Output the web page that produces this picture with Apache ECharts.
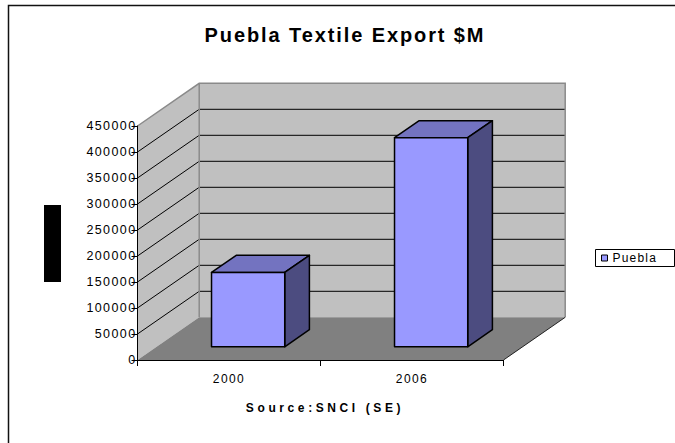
<!DOCTYPE html>
<html>
<head>
<meta charset="utf-8">
<title>Puebla Textile Export $M</title>
<script src="https://cdn.jsdelivr.net/npm/echarts@6/dist/echarts.min.js"></script>
<style>
  html, body { margin: 0; padding: 0; background: #fff; overflow: hidden; }
  #chart { width: 675px; height: 443px; }
</style>
</head>
<body>
<div id="chart"></div>
<script>
// Export values by year
const categories = ['2000', '2006'];
const puebla = [143000, 402000];

// Value axis range
const yMin = 0;
const yMax = 450000;
const yStep = 50000;

const FONT = '"Liberation Sans", Arial, Helvetica, sans-serif';
const DEPTH = [61.7, -42.7];          // offset from the front plane to the back wall (px)
const BAR_FRONT = 0.31, BAR_BACK = 0.71; // bar extent along the depth
const BAR_WIDTH = 0.4;                // share of a category band

function shift(p, f) {
  return [p[0] + DEPTH[0] * f, p[1] + DEPTH[1] * f];
}

// Left wall, back wall, floor and their gridlines
function renderWalls(params, api) {
  const cs = params.coordSys;
  const x0 = cs.x, x1 = cs.x + cs.width;
  const yTop = api.coord([0, yMax])[1];
  const yBase = api.coord([0, yMin])[1];
  const dx = DEPTH[0], dy = DEPTH[1];
  const kids = [];
  kids.push({ type: 'polygon', shape: { points: [[x0, yBase], [x0, yTop], [x0 + dx, yTop + dy], [x0 + dx, yBase + dy]] },
              style: { fill: '#c0c0c0' } });
  kids.push({ type: 'rect', shape: { x: x0 + dx, y: yTop + dy, width: x1 - x0, height: yBase - yTop },
              style: { fill: '#c0c0c0' } });
  kids.push({ type: 'polygon', shape: { points: [[x0, yBase], [x1, yBase], [x1 + dx, yBase + dy], [x0 + dx, yBase + dy]] },
              style: { fill: '#808080' } });
  for (let v = yMin + yStep; v < yMax; v += yStep) {
    const y = api.coord([0, v])[1];
    kids.push({ type: 'line', shape: { x1: x0, y1: y, x2: x0 + dx, y2: y + dy }, style: { stroke: '#000', lineWidth: 1 } });
    kids.push({ type: 'line', shape: { x1: x0 + dx, y1: y + dy, x2: x1 + dx, y2: y + dy }, style: { stroke: '#000', lineWidth: 1 } });
  }
  kids.push({ type: 'polyline', shape: { points: [[x0, yTop], [x0 + dx, yTop + dy], [x1 + dx, yTop + dy], [x1 + dx, yBase + dy]] },
              style: { stroke: '#8a8a8a', lineWidth: 1.5, fill: null } });
  kids.push({ type: 'line', shape: { x1: x0 + dx, y1: yTop + dy, x2: x0 + dx, y2: yBase + dy },
              style: { stroke: '#8a8a8a', lineWidth: 1.5 } });
  kids.push({ type: 'line', shape: { x1: x1, y1: yBase, x2: x1 + dx, y2: yBase + dy },
              style: { stroke: '#222', lineWidth: 1 } });
  return { type: 'group', children: kids };
}

// One box per category: top, right side and front face
function renderBar(params, api) {
  const idx = api.value(0);
  const val = api.value(1);
  const base = api.coord([idx, yMin]);
  const top = api.coord([idx, val]);
  const hw = api.size([1, 0])[0] * BAR_WIDTH / 2;
  const fl = [base[0] - hw, base[1]], fr = [base[0] + hw, base[1]];
  const tl = [top[0] - hw, top[1]], tr = [top[0] + hw, top[1]];
  const F = p => shift(p, BAR_FRONT), B = p => shift(p, BAR_BACK);
  const edge = { stroke: '#000', lineWidth: 1.5, lineJoin: 'round' };
  return {
    type: 'group',
    children: [
      { type: 'polygon', shape: { points: [F(tl), F(tr), B(tr), B(tl)] }, style: Object.assign({ fill: '#7373c0' }, edge) },
      { type: 'polygon', shape: { points: [F(tr), F(fr), B(fr), B(tr)] }, style: Object.assign({ fill: '#4c4c80' }, edge) },
      { type: 'polygon', shape: { points: [F(tl), F(tr), F(fr), F(fl)] }, style: Object.assign({ fill: '#9999ff' }, edge) }
    ]
  };
}

const chart = echarts.init(document.getElementById('chart'), null, { renderer: 'svg' });

chart.setOption({
  animation: false,
  backgroundColor: '#fff',
  grid: { left: 137.5, top: 126, width: 366, height: 234 },
  xAxis: {
    type: 'category',
    data: categories,
    z: 5,
    axisLine: { show: true, lineStyle: { color: '#000', width: 1 } },
    axisTick: { show: true, length: 6, interval: 0, lineStyle: { color: '#000' } },
    axisLabel: { margin: 13, color: '#000', fontSize: 12, fontFamily: FONT },
    splitLine: { show: false }
  },
  yAxis: {
    type: 'value',
    min: yMin,
    max: yMax,
    interval: yStep,
    z: 5,
    axisLine: { show: true, lineStyle: { color: '#000', width: 1 } },
    axisTick: { show: true, length: 6, lineStyle: { color: '#000' } },
    axisLabel: { margin: 1, color: '#000', fontSize: 12.5, fontFamily: FONT, formatter: v => String(v) },
    splitLine: { show: false }
  },
  legend: {
    left: 595,
    top: 249,
    padding: [3, 6, 3, 6],
    itemWidth: 6,
    itemHeight: 6,
    textStyle: { fontSize: 12, color: '#000', fontFamily: FONT },
    data: [{ name: 'Puebla', icon: 'rect', itemStyle: { color: '#9999ff', borderColor: '#000', borderWidth: 1 } }]
  },
  graphic: [
    { type: 'polyline', shape: { points: [[8.5, 443], [8.5, 5.5], [675, 5.5]] }, style: { fill: null, stroke: '#111', lineWidth: 1.5 }, silent: true },
    { type: 'rect', shape: { x: 44, y: 205, width: 17, height: 77 }, style: { fill: '#000' }, silent: true },
    // legend frame
    { type: 'rect', shape: { x: 595.5, y: 249.5, width: 79, height: 17 }, style: { fill: null, stroke: '#000', lineWidth: 1 }, silent: true, z: 10 },
    { type: 'text', x: 345, y: 35, style: { text: 'Puebla Textile Export $M', fill: '#000', font: 'bold 20px ' + FONT, textAlign: 'center', textVerticalAlign: 'middle' }, silent: true },
    { type: 'text', x: 325, y: 408, style: { text: 'Source:SNCI (SE)', fill: '#000', font: 'bold 12px ' + FONT, textAlign: 'center', textVerticalAlign: 'middle' }, silent: true }
  ],
  series: [
    {
      type: 'custom',
      name: 'walls',
      z: 1,
      silent: true,
      renderItem: renderWalls,
      data: [[0, 0]],
      encode: { x: 0, y: 1 }
    },
    {
      type: 'custom',
      name: 'Puebla',
      z: 3,
      itemStyle: { color: '#9999ff' },
      renderItem: renderBar,
      data: puebla.map((v, i) => [i, v]),
      encode: { x: 0, y: 1 }
    }
  ]
});

// Letter spacing for the chart texts (wide, Excel-like lettering)
const spacing = { 'Puebla Textile Export $M': '1.9', 'Source:SNCI (SE)': '3.6', 'Puebla': '1.2' };
function applySpacing() {
  document.querySelectorAll('#chart text').forEach(t => {
    const txt = t.textContent;
    let s = spacing[txt];
    if (!s && /^\d+$/.test(txt)) s = '1.4';
    if (s) t.setAttribute('letter-spacing', s);
  });
}
applySpacing();
chart.on('finished', applySpacing);
setTimeout(applySpacing, 0);
</script>
</body>
</html>
